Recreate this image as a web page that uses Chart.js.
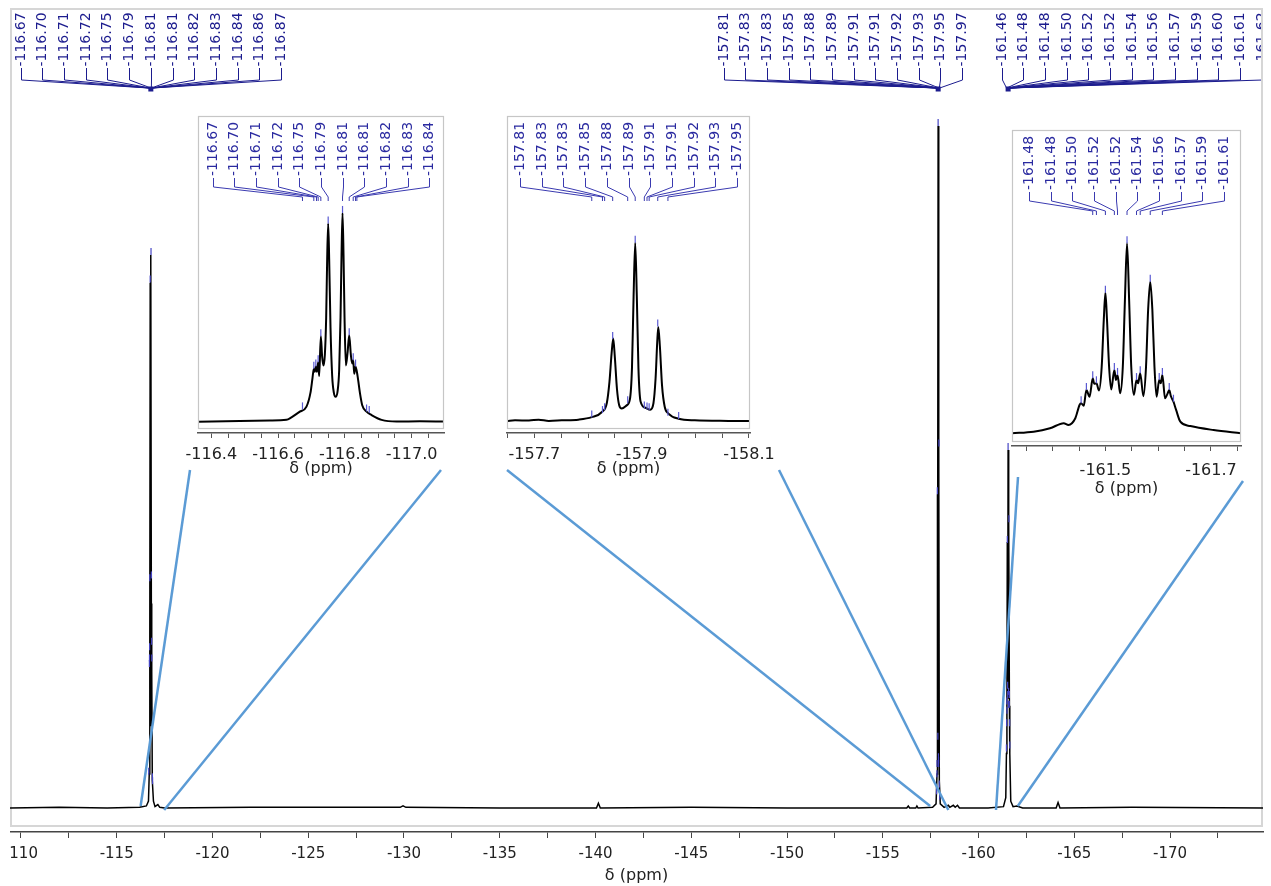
<!DOCTYPE html>
<html>
<head>
<meta charset="utf-8">
<script src="https://cdn.jsdelivr.net/npm/chart.js@4.4.1/dist/chart.umd.min.js"></script>
<style>
  html, body { margin: 0; padding: 0; background: #fff; }
  #wrap { position: relative; width: 1271px; height: 886px; overflow: hidden; }
  canvas { position: absolute; }
</style>
</head>
<body>
<div id="wrap">
  <canvas id="main" width="1254" height="886" style="left:10px;top:0"></canvas>
</div>
<script>
// ---- full 19F spectrum, [ppm, intensity] ----
var fullTrace = [
  [-109.43, 0], [-112.0, 0.001], [-114.5, 0], [-116.2, 0.001], [-116.55, 0.003], [-116.66, 0.01],
  [-116.70, 0.05], [-116.73, 0.25], [-116.75, 0.77], [-116.77, 0.12], [-116.79, 0.811], [-116.81, 0.3],
  [-116.83, 0.2], [-116.86, 0.04], [-116.92, 0.01], [-117.0, 0.002], [-117.15, 0.005], [-117.25, 0.001],
  [-117.5, 0], [-122, 0.001], [-129.8, 0.001], [-129.95, 0.003], [-130.1, 0.001], [-135, 0],
  [-140.05, 0], [-140.15, 0.007], [-140.25, 0], [-145, 0.001], [-150, 0], [-156.25, 0],
  [-156.33, 0.003], [-156.4, 0], [-156.72, 0], [-156.78, 0.003], [-156.84, 0], [-157.6, 0.001],
  [-157.78, 0.006], [-157.83, 0.05], [-157.847, 0.46], [-157.86, 0.07], [-157.888, 1.0], [-157.91, 0.07],
  [-157.931, 0.53], [-157.95, 0.04], [-158.0, 0.006], [-158.2, 0.001], [-158.42, 0.004], [-158.5, 0.001],
  [-158.68, 0.004], [-158.78, 0.001], [-158.9, 0.004], [-159.0, 0], [-160.5, 0], [-161.3, 0.002],
  [-161.42, 0.015], [-161.455, 0.08], [-161.48, 0.15], [-161.50, 0.39], [-161.52, 0.17], [-161.541, 0.525],
  [-161.56, 0.16], [-161.585, 0.42], [-161.61, 0.15], [-161.63, 0.08], [-161.68, 0.01], [-161.8, 0.002],
  [-162.0, 0.003], [-162.3, 0], [-164.05, 0], [-164.15, 0.008], [-164.25, 0], [-168, 0.001], [-174.85, 0]
];
var mainAxis = [-110, -115, -120, -125, -130, -135, -140, -145, -150, -155, -160, -165, -170];

// peak labels of the three multiplets
var labels116 = ['-116.67', '-116.70', '-116.71', '-116.72', '-116.75', '-116.79', '-116.81', '-116.81', '-116.82', '-116.83', '-116.84', '-116.86', '-116.87'];
var labels158 = ['-157.81', '-157.83', '-157.83', '-157.85', '-157.88', '-157.89', '-157.91', '-157.91', '-157.92', '-157.93', '-157.95', '-157.97'];
var labels161 = ['-161.46', '-161.48', '-161.48', '-161.50', '-161.52', '-161.52', '-161.54', '-161.56', '-161.57', '-161.59', '-161.60', '-161.61', '-161.62'];
// height of each multiplet's tallest line in the full spectrum
var multipletTops = [0.811, 1.0, 0.525];

// ---- expansion of -116.8 ----
var zoom116Trace = [
  [-116.360, 0.1], [-116.485, 0.5], [-116.575, 0.7], [-116.625, 1.0], [-116.640, 2.2], [-116.665, 4.9],
  [-116.685, 7.3], [-116.697, 14], [-116.703, 21], [-116.707, 25.5], [-116.710, 24], [-116.713, 26.5],
  [-116.716, 24], [-116.720, 28.5], [-116.723, 22], [-116.728, 41], [-116.732, 31], [-116.736, 27],
  [-116.740, 32], [-116.744, 50], [-116.747, 78], [-116.750, 95], [-116.753, 78], [-116.757, 45],
  [-116.762, 22], [-116.767, 14], [-116.772, 12], [-116.778, 14.5], [-116.783, 25], [-116.787, 50],
  [-116.790, 80], [-116.793, 100], [-116.796, 80], [-116.799, 50], [-116.803, 27], [-116.808, 33],
  [-116.813, 41.5], [-116.818, 32], [-116.822, 28], [-116.825, 29.5], [-116.828, 23], [-116.832, 26.5],
  [-116.838, 22], [-116.845, 14], [-116.852, 8], [-116.865, 4.9], [-116.880, 3.3], [-116.910, 1.0],
  [-116.955, 0.2], [-117.025, 0.3], [-117.097, 0.2]
];
var zoom116Labels = ['-116.67', '-116.70', '-116.71', '-116.72', '-116.75', '-116.79', '-116.81', '-116.81', '-116.82', '-116.83', '-116.84'];
var zoom116Peaks = [-116.673, -116.707, -116.715, -116.720, -116.728, -116.750, -116.793, -116.813, -116.825, -116.832, -116.836];
var zoom116Ticks = [[-116.673, 6], [-116.707, 25.5], [-116.713, 26.5], [-116.720, 28.5], [-116.728, 41], [-116.750, 95],
  [-116.793, 100], [-116.813, 41.5], [-116.825, 29.5], [-116.832, 26.5], [-116.865, 5], [-116.873, 4.3]];
var zoom116Axis = [-116.4, -116.6, -116.8, -117.0];

// ---- expansion of -157.9 ----
var zoom158Trace = [
  [-157.649, 0], [-157.664, 0.4], [-157.690, 0.3], [-157.708, 0.8], [-157.727, 0.1], [-157.751, 0.4],
  [-157.782, 0.8], [-157.807, 2.2], [-157.826, 5.1], [-157.835, 10], [-157.840, 22], [-157.844, 38],
  [-157.847, 46.3], [-157.850, 36], [-157.854, 18], [-157.858, 9], [-157.863, 7.0], [-157.872, 8.8],
  [-157.878, 12], [-157.882, 30], [-157.885, 70], [-157.888, 100], [-157.891, 70], [-157.894, 30],
  [-157.898, 11], [-157.907, 7.5], [-157.916, 6.4], [-157.922, 10], [-157.926, 24], [-157.929, 44],
  [-157.931, 52.8], [-157.934, 42], [-157.938, 20], [-157.943, 8], [-157.950, 4.2], [-157.969, 1.3],
  [-157.999, 0.4], [-158.062, 0.1], [-158.102, 0]
];
var zoom158Labels = ['-157.81', '-157.83', '-157.83', '-157.85', '-157.88', '-157.89', '-157.91', '-157.91', '-157.92', '-157.93', '-157.95'];
var zoom158Peaks = [-157.807, -157.827, -157.831, -157.846, -157.874, -157.888, -157.905, -157.910, -157.914, -157.930, -157.949];
var zoom158Ticks = [[-157.807, 2], [-157.827, 4.5], [-157.831, 6], [-157.846, 46], [-157.874, 10], [-157.888, 100],
  [-157.905, 7], [-157.910, 6.5], [-157.914, 6], [-157.930, 53], [-157.949, 3], [-157.969, 1.2]];
var zoom158Axis = [-157.7, -157.9, -158.1];

// ---- expansion of -161.5 ----
var zoom161Trace = [
  [-161.323, 0], [-161.364, 0.8], [-161.395, 2.6], [-161.421, 5.3], [-161.430, 4.4], [-161.443, 7.9],
  [-161.451, 14.9], [-161.454, 15.8], [-161.459, 14.5], [-161.464, 22.8], [-161.470, 19.2], [-161.476, 28.9],
  [-161.479, 26], [-161.483, 26.3], [-161.488, 22.5], [-161.493, 35], [-161.497, 60], [-161.500, 74],
  [-161.503, 60], [-161.507, 35], [-161.511, 23], [-161.517, 33.3], [-161.520, 28], [-161.523, 30.7],
  [-161.528, 21], [-161.533, 35], [-161.537, 70], [-161.541, 100], [-161.545, 70], [-161.549, 35],
  [-161.554, 20.2], [-161.559, 28], [-161.562, 26.3], [-161.566, 31.6], [-161.572, 19.5], [-161.577, 35],
  [-161.581, 65], [-161.585, 79.8], [-161.589, 65], [-161.593, 35], [-161.597, 19.2], [-161.602, 28],
  [-161.605, 26.3], [-161.608, 30.7], [-161.613, 18.4], [-161.618, 21], [-161.621, 22.8], [-161.624, 19.6],
  [-161.629, 16.6], [-161.634, 12.3], [-161.642, 6.1], [-161.661, 3.8], [-161.705, 1.7], [-161.757, 0]
];
var zoom161Labels = ['-161.48', '-161.48', '-161.50', '-161.52', '-161.52', '-161.54', '-161.56', '-161.57', '-161.59', '-161.61'];
var zoom161Peaks = [-161.476, -161.483, -161.500, -161.517, -161.523, -161.541, -161.559, -161.566, -161.585, -161.608];
var zoom161Ticks = [[-161.454, 15.8], [-161.464, 22.8], [-161.476, 28.9], [-161.483, 26.3], [-161.500, 74],
  [-161.517, 33.3], [-161.523, 30.7], [-161.541, 100], [-161.559, 28], [-161.566, 31.6], [-161.585, 79.8],
  [-161.602, 28], [-161.608, 30.7], [-161.621, 22.8], [-161.629, 16.6]];
var zoom161Axis = [-161.5, -161.7];

Chart.defaults.font.family = '"DejaVu Sans", sans-serif';
Chart.defaults.color = '#222';

var LABEL_GAP = 21.67;
var LABEL_FONT = '14px "DejaVu Sans"';

// expansions: plot box on the page, ppm window, intensity window, axis spacing and
// where the blue guide lines meet the full spectrum
var insets = [
  { box: [198, 116, 444, 433], padR: 14, axisH: 46, tickPad: 7, xr: [-117.097, -116.36], yr: [-5.3, 146.4],
    trace: zoom116Trace, labels: zoom116Labels, peaks: zoom116Peaks, ticks: zoom116Ticks, axis: zoom116Axis,
    from: [[190, 470], [441, 470]], to: [[-116.25, 0.003], [-117.48, -0.003]] },
  { box: [507, 116, 750, 433], padR: 30, axisH: 46, tickPad: 7, xr: [-158.102, -157.649], yr: [-6.7, 171.2],
    trace: zoom158Trace, labels: zoom158Labels, peaks: zoom158Peaks, ticks: zoom158Ticks, axis: zoom158Axis,
    from: [[507, 470], [779, 470]], to: [[-157.47, 0.003], [-158.42, -0.003]] },
  { box: [1012, 130, 1241, 446], padR: 14, axisH: 53, tickPad: 10, xr: [-161.757, -161.323], yr: [-6.7, 159.6],
    trace: zoom161Trace, labels: zoom161Labels, peaks: zoom161Peaks, ticks: zoom161Ticks, axis: zoom161Axis,
    from: [[1018, 477], [1243, 481]], to: [[-160.91, -0.003], [-162.05, 0.003]] }
];

function near(list, v) {
  return list.some(function (a) { return Math.abs(a - v) < 1e-6; });
}

function drawVertText(ctx, text, x, yBottom) {
  ctx.save();
  ctx.translate(x, yBottom);
  ctx.rotate(-Math.PI / 2);
  ctx.textAlign = 'left';
  ctx.textBaseline = 'middle';
  ctx.fillText(text, 0, 0);
  ctx.restore();
}

// frame, multiplet label trees, peak marks and the guide lines on the full spectrum
var mainDecor = {
  id: 'mainDecor',
  beforeDatasetsDraw: function (chart) {
    var a = chart.chartArea, ctx = chart.ctx;
    ctx.save();
    ctx.strokeStyle = '#d6d6d6';
    ctx.lineWidth = 2;
    ctx.strokeRect(a.left + 1, a.top + 1, a.right - a.left - 2, a.bottom - 7 - a.top);
    ctx.restore();
  },
  afterDatasetsDraw: function (chart) {
    var a = chart.chartArea, ctx = chart.ctx;
    var xs = chart.scales.x, ys = chart.scales.y;
    var trees = [labels116, labels158, labels161];
    var anchors = [6, 9.9, 0.3];

    ctx.save();
    ctx.beginPath();
    ctx.rect(a.left + 2, a.top, a.right - a.left - 4, a.bottom - a.top);
    ctx.clip();
    ctx.font = LABEL_FONT;
    ctx.strokeStyle = '#1c1c8e';
    ctx.fillStyle = '#1c1c8e';
    ctx.lineWidth = 1;
    trees.forEach(function (labs, k) {
      var pxs = labs.map(function (t) { return xs.getPixelForValue(Number(t)); });
      var cx = pxs.reduce(function (s, p) { return s + p; }, 0) / pxs.length;
      var x0 = cx - anchors[k] * LABEL_GAP;
      labs.forEach(function (t, i) {
        var lx = Math.round(x0 + i * LABEL_GAP) + 0.5;
        drawVertText(ctx, t, lx, 66.5);
        ctx.beginPath();
        ctx.moveTo(lx, 68);
        ctx.lineTo(lx, 80);
        ctx.lineTo(pxs[i], 88);
        ctx.stroke();
      });
      ctx.fillRect(cx - 2.5, 86.5, 5, 5);
    });
    ctx.restore();

    // peak marks on the full trace
    ctx.save();
    ctx.strokeStyle = '#4444c4';
    ctx.lineWidth = 1.2;
    [zoom116Ticks, zoom158Ticks, zoom161Ticks].forEach(function (set, k) {
      set.forEach(function (p) {
        var x = xs.getPixelForValue(p[0]);
        var y = ys.getPixelForValue(p[1] / 100 * multipletTops[k]);
        ctx.beginPath();
        ctx.moveTo(x, y);
        ctx.lineTo(x, y - 7);
        ctx.stroke();
      });
    });
    ctx.restore();

    // guide lines from each expansion down to its region
    ctx.save();
    ctx.strokeStyle = '#5b9bd5';
    ctx.lineWidth = 2.5;
    insets.forEach(function (ins) {
      ins.from.forEach(function (f, j) {
        var t = ins.to[j];
        ctx.beginPath();
        ctx.moveTo(f[0] - 10, f[1]);
        ctx.lineTo(xs.getPixelForValue(t[0]), ys.getPixelForValue(t[1]));
        ctx.stroke();
      });
    });
    ctx.restore();
  }
};

new Chart(document.getElementById('main'), {
  type: 'line',
  data: {
    datasets: [{
      data: fullTrace.map(function (p) { return { x: p[0], y: p[1] }; }),
      borderColor: '#000',
      borderWidth: 1.5,
      pointRadius: 0,
      tension: 0
    }]
  },
  options: {
    responsive: false,
    animation: false,
    events: [],
    layout: { padding: { left: 0, right: 1, top: 8, bottom: 0 } },
    plugins: { legend: { display: false }, tooltip: { enabled: false } },
    scales: {
      x: {
        type: 'linear',
        reverse: true,
        min: -174.85,
        max: -109.43,
        afterFit: function (s) { s.paddingLeft = 0; s.paddingRight = 0; s.height = 54; },
        border: { color: '#444', width: 1.5 },
        grid: { drawOnChartArea: false, tickLength: 6, color: '#444' },
        ticks: {
          stepSize: 2.5, includeBounds: false, autoSkip: false, maxRotation: 0, padding: 7,
          font: { size: 15 }, color: '#222',
          callback: function (v) { return near(mainAxis, v) ? String(Math.round(v)) : ''; }
        },
        title: { display: true, text: 'δ (ppm)', font: { size: 16 }, color: '#222', padding: { top: 0, bottom: 1 } }
      },
      y: { display: false, min: -0.0352, max: 1.173 }
    }
  },
  plugins: [mainDecor]
});

// one expansion chart on its own canvas
function makeInset(ins) {
  var padL = 14, padT = 8;
  var b = ins.box;
  var cv = document.createElement('canvas');
  cv.width = b[2] - b[0] + padL + ins.padR;
  cv.height = b[3] - b[1] + padT + ins.axisH;
  cv.style.left = (b[0] - padL) + 'px';
  cv.style.top = (b[1] - padT) + 'px';
  document.getElementById('wrap').appendChild(cv);

  var decor = {
    id: 'insetDecor',
    afterDatasetsDraw: function (chart) {
      var a = chart.chartArea, ctx = chart.ctx;
      var xs = chart.scales.x, ys = chart.scales.y;
      ctx.save();
      ctx.strokeStyle = '#c6c6c6';
      ctx.lineWidth = 1.2;
      ctx.strokeRect(a.left + 0.5, a.top + 0.5, a.right - a.left - 1, a.bottom - 5 - a.top);

      var n = ins.labels.length;
      var x0 = (a.left + a.right) / 2 - (n - 1) * LABEL_GAP / 2;
      var yb = a.top + 60;
      ctx.font = LABEL_FONT;
      ctx.fillStyle = '#2a2aa0';
      ctx.strokeStyle = '#3a3ab0';
      ctx.lineWidth = 1;
      ins.labels.forEach(function (t, i) {
        var lx = Math.round(x0 + i * LABEL_GAP) + 0.5;
        var px = xs.getPixelForValue(ins.peaks[i]);
        drawVertText(ctx, t, lx, yb);
        ctx.beginPath();
        ctx.moveTo(lx, yb + 2);
        ctx.lineTo(lx, yb + 11);
        ctx.lineTo(px, yb + 21);
        ctx.lineTo(px, yb + 25);
        ctx.stroke();
      });

      ctx.strokeStyle = '#5a5ad2';
      ctx.lineWidth = 1.2;
      ins.ticks.forEach(function (p) {
        var x = xs.getPixelForValue(p[0]);
        var y = ys.getPixelForValue(p[1]);
        ctx.beginPath();
        ctx.moveTo(x, y);
        ctx.lineTo(x, y - 7);
        ctx.stroke();
      });
      ctx.restore();
    }
  };

  new Chart(cv, {
    type: 'line',
    data: {
      datasets: [{
        data: ins.trace.map(function (p) { return { x: p[0], y: p[1] }; }),
        borderColor: '#000',
        borderWidth: 2,
        pointRadius: 0,
        cubicInterpolationMode: 'monotone'
      }]
    },
    options: {
      responsive: false,
      animation: false,
      events: [],
      layout: { padding: { left: padL, right: ins.padR, top: padT, bottom: 0 } },
      plugins: { legend: { display: false }, tooltip: { enabled: false } },
      scales: {
        x: {
          type: 'linear',
          reverse: true,
          min: ins.xr[0],
          max: ins.xr[1],
          afterFit: function (s) { s.paddingLeft = 0; s.paddingRight = 0; s.height = ins.axisH; },
          border: { color: '#555', width: 1.5 },
          grid: { drawOnChartArea: false, tickLength: 5, color: '#555' },
          ticks: {
            stepSize: 0.05, includeBounds: false, autoSkip: false, maxRotation: 0, padding: ins.tickPad,
            font: { size: 16 }, color: '#222',
            callback: function (v) { return near(ins.axis, v) ? v.toFixed(1) : ''; }
          },
          title: { display: true, text: 'δ (ppm)', font: { size: 16 }, color: '#222', padding: { top: 0, bottom: 1 } }
        },
        y: { display: false, min: ins.yr[0], max: ins.yr[1] }
      }
    },
    plugins: [decor]
  });
}

insets.forEach(makeInset);
</script>
</body>
</html>
